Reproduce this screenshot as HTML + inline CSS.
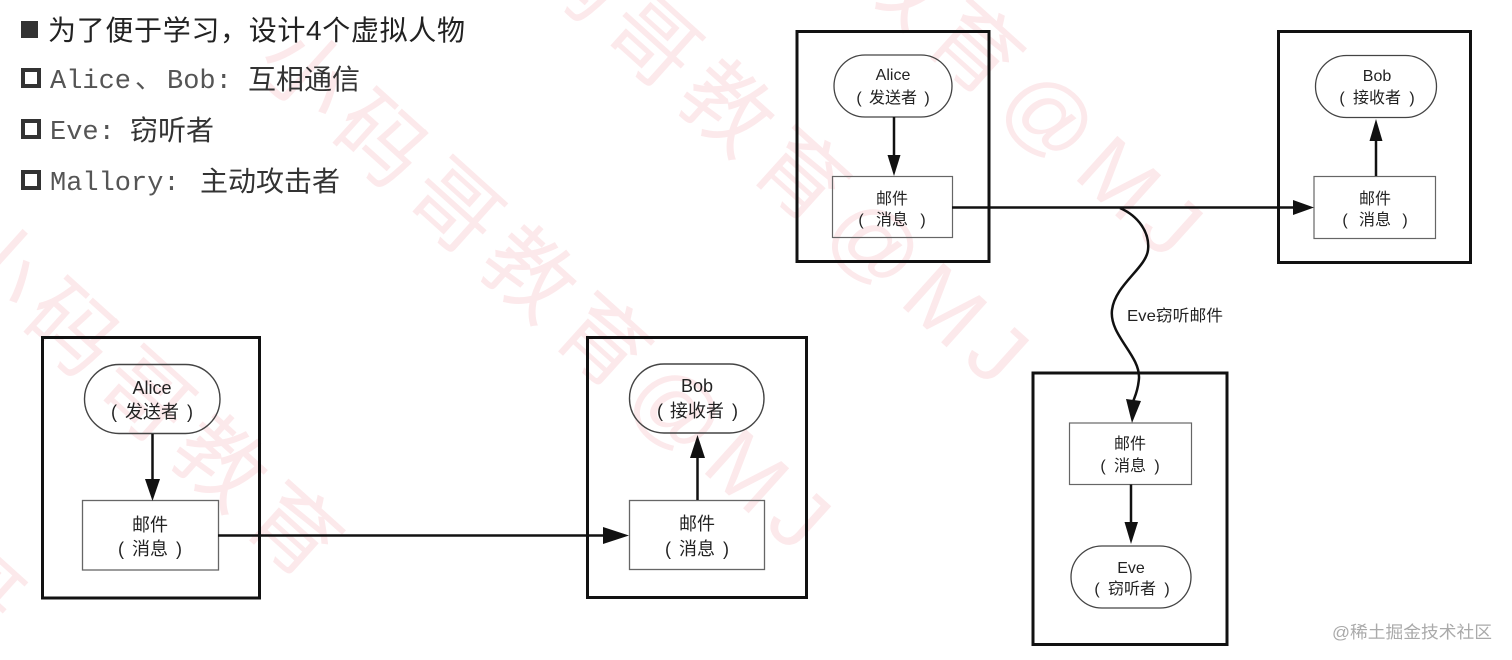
<!DOCTYPE html>
<html><head><meta charset="utf-8"><style>
html,body{margin:0;padding:0;background:#fff;width:1512px;height:660px;overflow:hidden;}
svg{display:block;overflow:hidden;}
</style></head><body>
<svg width="1512" height="660" viewBox="0 0 1512 660" xmlns="http://www.w3.org/2000/svg">
<defs><clipPath id="pg"><rect width="1512" height="660"/></clipPath></defs>
<rect width="1512" height="660" fill="#fff"/>
<!-- faint watermark -->
<g clip-path="url(#pg)">
<g font-family="'Liberation Sans','Noto Sans CJK SC',sans-serif" font-size="88" letter-spacing="12" fill="#f5b5bd" fill-opacity="0.3">
<text transform="translate(-207,423) rotate(42)" dominant-baseline="central">小码哥</text>
<text transform="translate(-36,233) rotate(42)" dominant-baseline="central">小码哥教育</text>
<text transform="translate(273,44) rotate(42)" dominant-baseline="central">小码哥教育@MJ</text>
<text transform="translate(471,-122) rotate(42)" dominant-baseline="central">小码哥教育@MJ</text>
<text transform="translate(645,-249) rotate(42)" dominant-baseline="central">小码哥教育@MJ</text>
</g>
</g>

<!-- bullet list -->
<rect x="21" y="21" width="17" height="17" fill="#333"/>
<text x="48" y="40" font-family="'Liberation Sans','Noto Sans CJK SC',sans-serif" font-size="28" fill="#222" textLength="417" lengthAdjust="spacing">为了便于学习，设计4个虚拟人物</text>

<rect x="23" y="70" width="16" height="16" fill="none" stroke="#333" stroke-width="4"/>
<text x="50" y="88" font-size="27" fill="#555" font-family="'Liberation Mono',monospace">Alice</text>
<text x="135" y="88" font-size="27" fill="#555" font-family="'Noto Sans CJK SC',sans-serif">、</text>
<text x="167" y="88" font-size="27" fill="#555" font-family="'Liberation Mono',monospace">Bob:</text>
<text x="248" y="89" font-size="28" fill="#333" font-family="'Noto Sans CJK SC',sans-serif">互相通信</text>

<rect x="23" y="121" width="16" height="16" fill="none" stroke="#333" stroke-width="4"/>
<text x="50" y="139" font-size="27" fill="#555" font-family="'Liberation Mono',monospace">Eve:</text>
<text x="130" y="140" font-size="28" fill="#333" font-family="'Noto Sans CJK SC',sans-serif">窃听者</text>

<rect x="23" y="172" width="16" height="16" fill="none" stroke="#333" stroke-width="4"/>
<text x="50" y="190" font-size="27" fill="#555" font-family="'Liberation Mono',monospace">Mallory:</text>
<text x="200" y="191" font-size="28" fill="#333" font-family="'Noto Sans CJK SC',sans-serif">主动攻击者</text>

<!-- ===== Top diagram ===== -->
<g fill="none" stroke="#111" stroke-width="3">
<rect x="797" y="31.5" width="192" height="230"/>
<rect x="1278.5" y="31.5" width="192" height="231"/>
<rect x="1033" y="373" width="194" height="271.5"/>
</g>
<g fill="none" stroke="#444" stroke-width="1.3">
<rect x="834" y="55" width="118" height="62" rx="31"/>
<rect x="1315.5" y="55.5" width="121" height="62" rx="31"/>
<rect x="1071" y="546" width="120" height="62" rx="31"/>
</g>
<g fill="none" stroke="#666" stroke-width="1.2">
<rect x="832.5" y="176.5" width="120" height="61"/>
<rect x="1314" y="176.5" width="121.5" height="62"/>
<rect x="1069.5" y="423" width="122" height="61.5"/>
</g>
<g stroke="#111" stroke-width="2.5" fill="none">
<line x1="894" y1="117" x2="894" y2="158"/>
<line x1="952" y1="207.5" x2="1296" y2="207.5"/>
<line x1="1376" y1="176" x2="1376" y2="138"/>
<line x1="1131" y1="484.5" x2="1131" y2="526"/>
<path d="M1120,208 C1138,216 1150,232 1148,250 C1146,268 1115,285 1112,310 C1109,335 1140,355 1139,378 C1138,392 1134,398 1133,402"/>
</g>
<g fill="#111">
<polygon points="887.5,155 900.5,155 894,176"/>
<polygon points="1293,200 1293,215 1314,207.5"/>
<polygon points="1369.5,141 1382.5,141 1376,119"/>
<polygon points="1124.5,522 1138,522 1131,544"/>
<polygon points="1126,399 1141,401 1132,423"/>
</g>
<g font-family="'Liberation Sans','Noto Sans CJK SC',sans-serif" font-size="16" fill="#222" text-anchor="middle">
<text x="893" y="80">Alice</text>
<text x="893" y="103">发送者</text><text x="859" y="103">(</text><text x="927" y="103">)</text>
<text x="892" y="204">邮件</text>
<text x="892" y="225">消息</text><text x="861" y="225">(</text><text x="923" y="225">)</text>
<text x="1377" y="81">Bob</text>
<text x="1377" y="103">接收者</text><text x="1342" y="103">(</text><text x="1412" y="103">)</text>
<text x="1375" y="204">邮件</text>
<text x="1375" y="225">消息</text><text x="1345" y="225">(</text><text x="1405" y="225">)</text>
<text x="1130" y="449">邮件</text>
<text x="1130" y="471">消息</text><text x="1103" y="471">(</text><text x="1157" y="471">)</text>
<text x="1131" y="573">Eve</text>
<text x="1132" y="594">窃听者</text><text x="1097" y="594">(</text><text x="1167" y="594">)</text>
<text x="1175" y="321" textLength="96" lengthAdjust="spacingAndGlyphs">Eve窃听邮件</text>
</g>

<!-- ===== Bottom diagram ===== -->
<g fill="none" stroke="#111" stroke-width="3">
<rect x="42.5" y="337.5" width="217" height="260.5"/>
<rect x="587.5" y="337.5" width="219" height="260"/>
</g>
<g fill="none" stroke="#444" stroke-width="1.4">
<rect x="84.5" y="364.5" width="135.5" height="69" rx="34.5"/>
<rect x="629.5" y="364" width="134.5" height="69" rx="34.5"/>
</g>
<g fill="none" stroke="#666" stroke-width="1.3">
<rect x="82.5" y="500.5" width="136" height="69.5"/>
<rect x="629.5" y="500.5" width="135" height="69"/>
</g>
<g stroke="#111" stroke-width="2.5" fill="none">
<line x1="152.5" y1="434" x2="152.5" y2="482"/>
<line x1="218" y1="535.5" x2="606" y2="535.5"/>
<line x1="697.5" y1="500" x2="697.5" y2="455"/>
</g>
<g fill="#111">
<polygon points="145,479 160,479 152.5,501"/>
<polygon points="603,527 603,544 629,535.5"/>
<polygon points="690,458 705,458 697.5,435"/>
</g>
<g font-family="'Liberation Sans','Noto Sans CJK SC',sans-serif" font-size="18" fill="#222" text-anchor="middle">
<text x="152" y="394">Alice</text>
<text x="152" y="418">发送者</text><text x="114" y="418">(</text><text x="190" y="418">)</text>
<text x="150" y="531">邮件</text>
<text x="150" y="555">消息</text><text x="121" y="555">(</text><text x="179" y="555">)</text>
<text x="697" y="392">Bob</text>
<text x="697" y="417">接收者</text><text x="660" y="417">(</text><text x="735" y="417">)</text>
<text x="697" y="530">邮件</text>
<text x="697" y="555">消息</text><text x="668" y="555">(</text><text x="726" y="555">)</text>
</g>

<text x="1332" y="638" font-family="'Liberation Sans','Noto Sans CJK SC',sans-serif" font-size="17" fill="#aaa" textLength="160" lengthAdjust="spacingAndGlyphs">@稀土掘金技术社区</text>
</svg>
</body></html>
